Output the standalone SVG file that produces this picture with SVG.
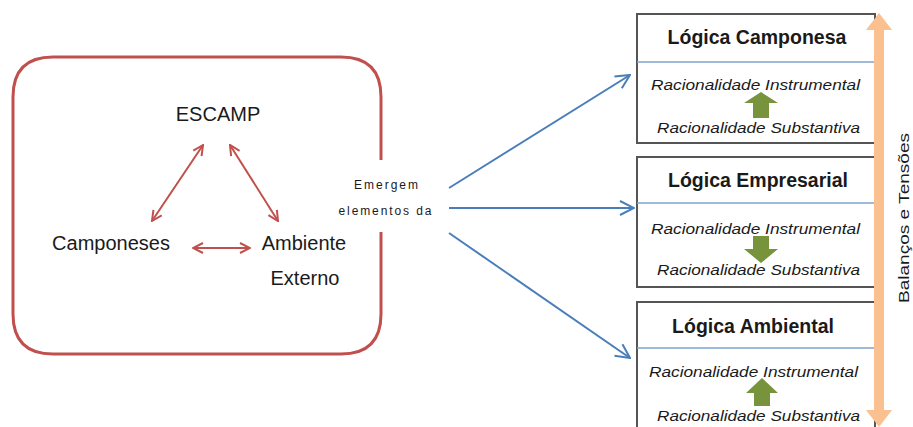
<svg xmlns="http://www.w3.org/2000/svg" width="913" height="427" viewBox="0 0 913 427">
<defs>
<style>
.t{font-family:"Liberation Sans",Arial,sans-serif;fill:#1a1a1a}
.big{font-size:20px}
.title{font-size:19.5px;font-weight:bold}
.it{font-size:15.5px;font-style:italic}
.sm{font-size:12px}
.box{fill:#fff;stroke:#555;stroke-width:2}
.div{stroke:#7ea3cf;stroke-width:1.5}
.red{stroke:#c0504d;stroke-width:2;fill:none}
.blue{stroke:#4a7ebb;stroke-width:2;fill:none}
.green{fill:#77933c}
</style>
<marker id="rh" viewBox="0 0 12 12" refX="11" refY="6" markerWidth="12" markerHeight="12" markerUnits="userSpaceOnUse" orient="auto-start-reverse">
<path d="M1,1 L11,6 L1,11" fill="none" stroke="#c0504d" stroke-width="2"/>
</marker>
<marker id="bh" viewBox="0 0 16 16" refX="15" refY="8" markerWidth="16" markerHeight="16" markerUnits="userSpaceOnUse" orient="auto">
<path d="M1,1 L15,8 L1,15" fill="none" stroke="#4a7ebb" stroke-width="2"/>
</marker>
</defs>
<rect width="913" height="427" fill="#fff"/>

<g id="escamp-frame">
<path d="M381,160 L381,97 Q381,57 341,57 L53,57 Q13,57 13,97 L13,314 Q13,354 53,354 L341,354 Q381,354 381,314 L381,232" fill="none" stroke="#c0504d" stroke-width="3"/>
</g>

<g id="escamp"><text class="t big" x="218" y="121" text-anchor="middle">ESCAMP</text></g>
<g id="camponeses"><text class="t big" x="111" y="250" text-anchor="middle">Camponeses</text></g>
<g id="ambiente"><text class="t big" x="304" y="250" text-anchor="middle">Ambiente</text><text class="t big" x="305" y="285" text-anchor="middle">Externo</text></g>

<g id="emergem"><text class="t sm" x="386" y="189" text-anchor="middle" textLength="64" lengthAdjust="spacing">Emergem</text><text class="t sm" x="385" y="215" text-anchor="middle" textLength="93" lengthAdjust="spacing">elementos da</text></g>

<g id="connectors">
<line class="red" x1="152" y1="221" x2="203" y2="145" marker-start="url(#rh)" marker-end="url(#rh)"/>
<line class="red" x1="230" y1="145" x2="278" y2="221" marker-start="url(#rh)" marker-end="url(#rh)"/>
<line class="red" x1="193" y1="248" x2="250" y2="248" marker-start="url(#rh)" marker-end="url(#rh)"/>
<line class="blue" x1="449" y1="188" x2="630" y2="75" marker-end="url(#bh)"/>
<line class="blue" x1="449" y1="208" x2="634" y2="208" marker-end="url(#bh)"/>
<line class="blue" x1="449" y1="233" x2="630" y2="358" marker-end="url(#bh)"/>
</g>

<g id="logica-camponesa">
<rect class="box" x="637" y="14" width="238" height="129"/>
<line class="div" x1="637" y1="62" x2="874" y2="62"/>
<text class="t title" x="757" y="44" text-anchor="middle">Lógica Camponesa</text>
<text class="t it" x="651" y="90" textLength="209" lengthAdjust="spacingAndGlyphs">Racionalidade Instrumental</text>
<path class="green" d="M761,92 L778,103 L769,103 L769,118 L753,118 L753,103 L744,103 Z"/>
<text class="t it" x="657" y="133" textLength="203" lengthAdjust="spacingAndGlyphs">Racionalidade Substantiva</text>
</g>

<g id="logica-empresarial">
<rect class="box" x="637" y="157" width="238" height="130"/>
<line class="div" x1="637" y1="203" x2="874" y2="203"/>
<text class="t title" x="758" y="187" text-anchor="middle">Lógica Empresarial</text>
<text class="t it" x="651" y="234" textLength="209" lengthAdjust="spacingAndGlyphs">Racionalidade Instrumental</text>
<path class="green" d="M761,263 L778,249 L769,249 L769,236 L753,236 L753,249 L744,249 Z"/>
<text class="t it" x="657" y="275" textLength="203" lengthAdjust="spacingAndGlyphs">Racionalidade Substantiva</text>
</g>

<g id="logica-ambiental">
<path d="M637,440 L637,302 L875,302 L875,440" fill="#fff" stroke="#555" stroke-width="2"/>
<line class="div" x1="637" y1="348" x2="874" y2="348"/>
<text class="t title" x="753" y="333" text-anchor="middle">Lógica Ambiental</text>
<text class="t it" x="649" y="377" textLength="209" lengthAdjust="spacingAndGlyphs">Racionalidade Instrumental</text>
<path class="green" d="M762,378 L778,393 L770,393 L770,406 L754,406 L754,393 L746,393 Z"/>
<text class="t it" x="657" y="421" textLength="203" lengthAdjust="spacingAndGlyphs">Racionalidade Substantiva</text>
</g>

<g id="balancos">
<path d="M879,13 L892,30 L884,30 L884,410 L892,410 L879,427 L866,410 L874,410 L874,30 L866,30 Z" fill="#fac090"/>
<text class="t" font-size="15" transform="translate(909,218) rotate(-90)" text-anchor="middle" textLength="170" lengthAdjust="spacingAndGlyphs">Balanços e Tensões</text>
</g>
</svg>
